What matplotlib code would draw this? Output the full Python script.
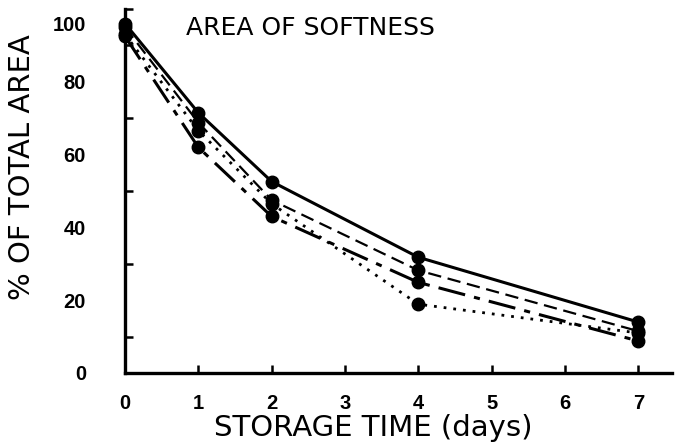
import matplotlib
matplotlib.use("Agg")
import matplotlib.pyplot as plt

# Data
days = [0, 1, 2, 4, 7]
solid = [96, 71.5, 52.6, 31.8, 14.0]
dashed = [95, 68.8, 47.5, 28.2, 11.5]
dotted = [93, 66.6, 46.5, 18.9, 11.0]
longdash = [92.5, 62.0, 43.0, 24.9, 8.8]

xticks = [0, 1, 2, 3, 4, 5, 6, 7]
ytick_labels = ["0", "20", "40", "60", "80", "100"]
ytick_pos = [0, 20, 40, 60, 80, 96]

W, H = 679, 443
fig = plt.figure(figsize=(W / 100, H / 100), dpi=100)
left, right, bottom, top = 125, 672, 373, 9
ax = fig.add_axes([left / W, 1 - bottom / H, (right - left) / W, (bottom - top) / H])

mk = dict(marker="o", markersize=9, color="black", clip_on=False, zorder=3)
ax.plot(days, solid, linestyle="-", linewidth=2.2, **mk)
ax.plot(days, dashed, linestyle=(0, (6, 3)), linewidth=1.6, **mk)
ax.plot(days, dotted, linestyle=(0, (1, 2.5)), linewidth=2.0, **mk)
ax.plot(days, longdash, linestyle=(0, (9, 3, 2, 3)), linewidth=2.2, **mk)

ax.set_xlim(0, 7.46)
ax.set_ylim(0, 100)

for s in ["top", "right"]:
    ax.spines[s].set_visible(False)
for s in ["left", "bottom"]:
    ax.spines[s].set_linewidth(2.4)

tickfont = dict(fontsize=14.5, fontweight="bold", family="Liberation Sans")

# x ticks
ax.set_xticks(xticks)
ax.set_xticklabels([str(t) for t in xticks], **tickfont)
ax.tick_params(axis="x", direction="in", length=6, width=1.8, pad=15)

# y ticks: marks as minor ticks every 10, labels as major ticks
ax.set_yticks(ytick_pos)
ax.set_yticklabels(ytick_labels, **tickfont)
ax.set_yticks(list(range(10, 101, 10)), minor=True)
ax.tick_params(axis="y", which="major", length=0, pad=28)
ax.tick_params(axis="y", which="minor", direction="in", length=6, width=1.8)

ax.set_ylabel("% OF TOTAL AREA", fontsize=21, family="DejaVu Sans")
ax.yaxis.label.set_rotation_mode("default")
ax.yaxis.label.set_va("center")
ax.yaxis.set_label_coords((22 - left) / (right - left), (bottom - 167) / (bottom - top))

ax.set_xlabel("STORAGE TIME (days)", fontsize=21, family="DejaVu Sans")
ax.xaxis.label.set_va("center")
ax.xaxis.set_label_coords((373 - left) / (right - left), (bottom - 428) / (bottom - top))

fig.text(186 / W, 1 - 28 / H, "AREA OF SOFTNESS", fontsize=18, family="DejaVu Sans",
         ha="left", va="center")

fig.savefig("out.png", dpi=100)
